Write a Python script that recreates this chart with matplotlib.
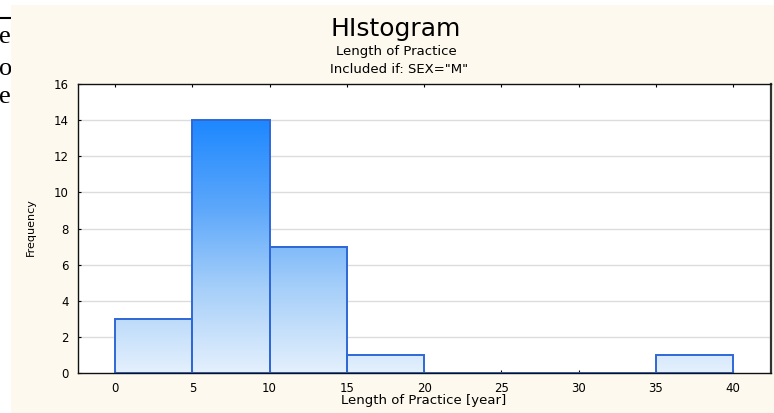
import numpy as np
import matplotlib
matplotlib.use("Agg")
import matplotlib.pyplot as plt
from matplotlib.patches import Rectangle
from matplotlib.colors import LinearSegmentedColormap

# Data
bin_edges = [0, 5, 10, 15, 20, 25, 30, 35, 40]
counts = [3, 14, 7, 1, 0, 0, 0, 1]
x_ticks = [0, 5, 10, 15, 20, 25, 30, 35, 40]
y_ticks = [0, 2, 4, 6, 8, 10, 12, 14, 16]

title = "HIstogram"
subtitle1 = "Length of Practice"
subtitle2 = 'Included if: SEX="M"'
xlabel = "Length of Practice [year]"
ylabel = "Frequency"

W, H = 774, 413
fig = plt.figure(figsize=(W / 100, H / 100), dpi=100)
fig.patch.set_facecolor("white")

font = "DejaVu Sans"

# left strip serif fragments (cut off by panel)
for yy, s in [(43, "e"), (75, "o"), (103, "e.")]:
    fig.text(-1 / W, 1 - yy / H, s, family="Liberation Serif", fontsize=19,
             ha="left", va="baseline", zorder=0.2)
fig.add_artist(plt.Line2D([0, 12 / W], [1 - 18 / H, 1 - 18 / H], color="black", lw=1.5, zorder=0.3))

# cream panel
fig.add_artist(Rectangle((11 / W, 0), 1 - 11 / W, 1 - 5 / H, transform=fig.transFigure,
                         facecolor="#fdf9ee", edgecolor="none", zorder=0.5))

left, right, top, bottom = 78, 771, 84, 373
ax = fig.add_axes([left / W, 1 - bottom / H, (right - left) / W, (bottom - top) / H], zorder=1)
ax.set_facecolor("white")

xmin = -2.4
xmax = 42.45

for y in y_ticks[1:-1]:
    ax.axhline(y, color="#dcdcdc", lw=1.0, zorder=0.5)

cmap = LinearSegmentedColormap.from_list("g", ["#e4f0fd", "#a6cff9", "#5aa6fb", "#1e88ff"])
vmax = 14.0
for i, c in enumerate(counts):
    x0, x1 = bin_edges[i], bin_edges[i + 1]
    if c > 0:
        grad = np.linspace(0, c, 200).reshape(-1, 1)
        ax.imshow(grad, extent=(x0, x1, 0, c), origin="lower", cmap=cmap, vmin=0, vmax=vmax,
                  aspect="auto", interpolation="bilinear", zorder=1)
    ax.add_patch(Rectangle((x0, 0), x1 - x0, c, facecolor="none", edgecolor="#2f68d6",
                           lw=1.4, zorder=2, clip_on=False))
ax.set_xlim(xmin, xmax)
ax.set_ylim(0, 16)

ax.set_xticks(x_ticks)
ax.set_yticks(y_ticks)
ax.tick_params(direction="in", length=2.5, width=0.8, labelsize=8.5, pad=6.5,
               top=True, right=False)
for lab in ax.get_xticklabels() + ax.get_yticklabels():
    lab.set_family(font)
for s in ax.spines.values():
    s.set_color("#111111")
    s.set_linewidth(1.0)
ax.spines["right"].set_linewidth(1.6)
ax.spines["right"].set_color("#333333")

cx = 396 / W
fig.text(cx, 1 - 36 / H, title, family=font, fontsize=18, ha="center", va="baseline", zorder=3)
fig.text(cx, 1 - 55 / H, subtitle1, family=font, fontsize=9.5, ha="center", va="baseline", zorder=3)
fig.text(cx + 3 / W, 1 - 73 / H, subtitle2, family=font, fontsize=9.5, ha="center", va="baseline", zorder=3)
fig.text(424 / W, 1 - 404 / H, xlabel, family=font, fontsize=9.5, ha="center", va="baseline", zorder=3)
fig.text(31 / W, 1 - 227 / H, ylabel, family=font, fontsize=8, ha="center", va="center",
         rotation=90, zorder=3)

fig.savefig("out.png", dpi=100)
